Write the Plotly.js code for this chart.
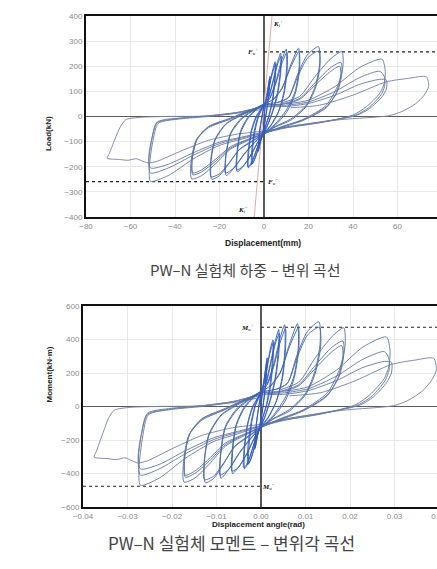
<!DOCTYPE html>
<html>
<head>
<meta charset="utf-8">
<script src="https://cdn.plot.ly/plotly-3.0.1.min.js"></script>
<style>
html,body{margin:0;padding:0;background:#fff;overflow:hidden;}
#chart{width:460px;height:569px;}
</style>
</head>
<body>
<div id="chart"></div>
<script>
// ---------- Load - displacement (mm, kN) ----------
const lv1Disp=[0,1.2,2.5,1.8,0.5,0,-1.2,-2.5,-1.8,-0.5,0,1.3,2.7,1.9,0.4,0,-1.3,-2.7,-1.9,-0.4,0];
const lv1Load=[0,75,150,70,-15,-40,-80,-135,-55,20,38,90,160,65,-25,-48,-90,-140,-50,25,45];
const lv2Disp=[1.5,3,4.2,5,4.9,3.8,2.2,0.6,0,-1.5,-3,-4.3,-5.2,-5.1,-4,-2.4,-0.8,0,1.6,3.1,4.4,5.2,5,3.9,2.2,0.6,0,-1.6,-3.2,-4.6,-5.6,-5.4,-4.2,-2.5,-0.8,0];
const lv2Load=[80,150,195,218,160,70,5,-40,-60,-95,-140,-172,-188,-130,-55,0,32,45,82,148,190,210,150,62,0,-42,-62,-98,-145,-178,-192,-125,-50,5,35,48];
const lv3Disp=[2,4,6,7.5,7.4,6,4,1.5,0,-2,-4,-5.8,-7,-6.9,-5.6,-3.5,-1.2,0,2.2,4.2,6.2,7.7,7.5,6.1,4,1.5,0,-2.2,-4.3,-6.2,-7.3,-7.1,-5.7,-3.6,-1.2,0];
const lv3Load=[75,140,215,252,185,95,25,-35,-62,-100,-150,-190,-205,-145,-60,-5,30,45,78,142,210,240,175,85,20,-38,-65,-105,-155,-192,-200,-138,-55,0,32,48];
const lv4Disp=[2.5,5,8,10,10.2,9,6.5,3,0,-3,-6,-9.5,-12,-12.1,-10.5,-7,-3,0,2.6,5.2,8.2,10.3,10.4,9,6.4,3,0,-3,-6.2,-9.6,-12.3,-12.2,-10.6,-7,-3,0];
const lv4Load=[70,130,225,268,200,100,20,-35,-65,-105,-155,-200,-220,-155,-65,-5,30,48,72,128,215,255,185,90,15,-38,-68,-108,-158,-200,-212,-148,-60,0,32,50];
const lv5Disp=[4,8,12,15.5,15.8,14,10,5,0,-4,-9,-13.5,-17,-17.2,-15,-10,-4,0,4,8,12.2,15.7,16,14,10,5,0,-4,-9,-13.6,-17.3,-17.2,-15,-10,-4,0];
const lv5Load=[65,110,205,272,200,100,25,-30,-68,-100,-150,-205,-235,-165,-70,-10,28,48,68,112,200,258,190,90,15,-35,-70,-102,-152,-205,-225,-158,-65,-5,30,50];
const lv6Disp=[6,11,15,19.5,24.5,25,23,19,12,5,0,-5,-11,-16,-20,-23.5,-23.8,-22,-17,-10,-4,0,6,11,15.2,19.8,24.7,25.1,23,19,12,5,0,-5,-11,-16,-20,-23.8,-23.9,-22,-17,-10,-4,0];
const lv6Load=[55,75,165,245,278,210,120,45,-10,-40,-68,-95,-130,-190,-235,-250,-180,-95,-30,5,30,48,56,76,160,235,260,195,110,40,-15,-42,-70,-98,-132,-188,-228,-240,-170,-90,-28,8,32,50];
const lv7Disp=[8,16,23,30,35,35.5,33,28,18,8,0,-7,-15,-22,-28,-32.5,-32.8,-30.5,-25,-15,-6,0,
               8,16,23,30,34.5,35,33,28,18,8,0,-7,-15,-22,-28,-32,-32.3,-30,-25,-15,-6,0,
               8,16,23,30,34,34.5,32.5,28,18,8,0,-7,-15,-22,-28,-32,-32.2,-30,-25,-15,-6,0];
const lv7Load=[55,80,160,230,258,200,120,45,-10,-40,-68,-95,-130,-190,-235,-248,-180,-94,-45,-10,25,45,
               50,72,135,195,215,170,100,38,-12,-42,-68,-92,-125,-180,-220,-232,-170,-90,-42,-8,25,45,
               48,68,125,180,200,160,95,35,-14,-44,-68,-90,-120,-172,-212,-225,-165,-88,-40,-6,26,45];
const lv8Disp=[10,20,32,43,53,54.5,54,52,46,40,25,10,0,-10,-20,-32,-43,-51,-51.5,-50,-47.5,-38,-25,-12,0,
               10,20,32,43,52,54,54.2,52.5,47,41,25,10,0,-10,-20,-32,-43,-51,-51.8,-50.5,-48,-38,-25,-12,0,
               10,20,32,43,52,55,55,53,47.5,41.5,25,10,0,-10,-20,-32,-43,-51,-51.8,-50.5,-48,-38,-25,-12,0];
const lv8Load=[50,65,120,195,228,180,130,92,39,6,-25,-45,-65,-90,-115,-170,-235,-258,-200,-100,-27,-10,0,15,40,
               45,58,100,155,180,160,120,85,35,5,-24,-44,-64,-85,-108,-155,-205,-225,-180,-95,-25,-8,2,16,38,
               40,52,85,128,148,145,110,78,32,4,-22,-42,-62,-82,-102,-145,-190,-205,-165,-90,-22,-6,3,16,36];
const lv9Disp=[12,25,40,55,65,73,74,72,68,62,56,35,15,0,-12,-25,-38,-48,-52,-55,-57.5,-61,-65,-70.5,-69.5,-67,-64.5,-62,-55,-45,-25,-10,0];
const lv9Load=[35,45,85,138,152,158,120,85,50,20,3,-12,-35,-58,-70,-95,-140,-178,-185,-176,-168,-174,-171,-166,-147,-90,-40,-12,-3,0,2,15,30];

// ---------- Moment - displacement angle (rad, kN·m) ----------
const lv1Rot=[0,0.0006,0.0013,0.0010,0.0003,0,-0.0006,-0.0013,-0.0010,-0.0003,0,0.0007,0.0014,0.0010,0.0002,0,-0.0007,-0.0014,-0.0010,-0.0002,0];
const lv1Mom=[0,137,273,127,-27,-73,-146,-246,-100,36,69,164,291,118,-46,-87,-164,-255,-91,46,82];
const lv2Rot=[0.0008,0.0016,0.0022,0.0027,0.0026,0.0020,0.0012,0.0003,0,-0.0008,-0.0016,-0.0023,-0.0028,-0.0027,-0.0021,-0.0013,-0.0004,0,0.0009,0.0016,0.0023,0.0028,0.0027,0.0021,0.0012,0.0003,0,-0.0009,-0.0017,-0.0024,-0.0030,-0.0029,-0.0022,-0.0013,-0.0004,0];
const lv2Mom=[146,273,355,397,291,127,9,-73,-109,-173,-255,-313,-342,-237,-100,0,58,82,149,269,346,382,273,113,0,-76,-113,-178,-264,-324,-349,-228,-91,9,64,87];
const lv3Rot=[0.0011,0.0021,0.0032,0.0040,0.0039,0.0032,0.0021,0.0008,0,-0.0011,-0.0021,-0.0031,-0.0037,-0.0037,-0.0030,-0.0019,-0.0006,0,0.0012,0.0022,0.0033,0.0041,0.0040,0.0032,0.0021,0.0008,0,-0.0012,-0.0023,-0.0033,-0.0039,-0.0038,-0.0030,-0.0019,-0.0006,0];
const lv3Mom=[137,255,391,459,337,173,46,-64,-113,-182,-273,-346,-373,-264,-109,-9,55,82,142,258,382,437,319,155,36,-69,-118,-191,-282,-349,-364,-251,-100,0,58,87];
const lv4Rot=[0.0013,0.0027,0.0043,0.0053,0.0054,0.0048,0.0035,0.0016,0,-0.0016,-0.0032,-0.0051,-0.0064,-0.0064,-0.0056,-0.0037,-0.0016,0,0.0014,0.0028,0.0044,0.0055,0.0055,0.0048,0.0034,0.0016,0,-0.0016,-0.0033,-0.0051,-0.0065,-0.0065,-0.0056,-0.0037,-0.0016,0];
const lv4Mom=[127,237,410,488,364,182,36,-64,-118,-191,-282,-364,-400,-282,-118,-9,55,87,131,233,391,464,337,164,27,-69,-124,-197,-288,-364,-386,-269,-109,0,58,91];
const lv5Rot=[0.0021,0.0043,0.0064,0.0082,0.0084,0.0074,0.0053,0.0027,0,-0.0021,-0.0048,-0.0072,-0.0090,-0.0091,-0.0080,-0.0053,-0.0021,0,0.0021,0.0043,0.0065,0.0084,0.0085,0.0074,0.0053,0.0027,0,-0.0021,-0.0048,-0.0072,-0.0092,-0.0091,-0.0080,-0.0053,-0.0021,0];
const lv5Mom=[118,200,373,495,364,182,46,-55,-124,-182,-273,-373,-428,-300,-127,-18,51,87,124,204,364,470,346,164,27,-64,-127,-186,-277,-373,-410,-288,-118,-9,55,91];
const lv6Rot=[0.0032,0.0059,0.0080,0.0104,0.0130,0.0133,0.0122,0.0101,0.0064,0.0027,0,-0.0027,-0.0059,-0.0085,-0.0106,-0.0125,-0.0127,-0.0117,-0.0090,-0.0053,-0.0021,0,0.0032,0.0059,0.0081,0.0105,0.0131,0.0134,0.0122,0.0101,0.0064,0.0027,0,-0.0027,-0.0059,-0.0085,-0.0106,-0.0127,-0.0127,-0.0117,-0.0090,-0.0053,-0.0021,0];
const lv6Mom=[100,137,300,446,506,382,218,82,-18,-73,-124,-173,-237,-346,-428,-455,-328,-173,-55,9,55,87,102,138,291,428,473,355,200,73,-27,-76,-127,-178,-240,-342,-415,-437,-309,-164,-51,15,58,91];
const lv7Rot=[0.0043,0.0085,0.0122,0.0160,0.0186,0.0189,0.0176,0.0149,0.0096,0.0043,0,-0.0037,-0.0080,-0.0117,-0.0149,-0.0173,-0.0174,-0.0162,-0.0133,-0.0080,-0.0032,0,
              0.0043,0.0085,0.0122,0.0160,0.0184,0.0186,0.0176,0.0149,0.0096,0.0043,0,-0.0037,-0.0080,-0.0117,-0.0149,-0.0170,-0.0172,-0.0160,-0.0133,-0.0080,-0.0032,0,
              0.0043,0.0085,0.0122,0.0160,0.0181,0.0184,0.0173,0.0149,0.0096,0.0043,0,-0.0037,-0.0080,-0.0117,-0.0149,-0.0170,-0.0171,-0.0160,-0.0133,-0.0080,-0.0032,0];
const lv7Mom=[100,146,291,419,470,364,218,82,-18,-73,-124,-173,-237,-346,-428,-451,-328,-171,-82,-18,46,82,
              91,131,246,355,391,309,182,69,-22,-76,-124,-167,-228,-328,-400,-422,-309,-164,-76,-15,46,82,
              87,124,228,328,364,291,173,64,-25,-80,-124,-164,-218,-313,-386,-410,-300,-160,-73,-11,47,82];
const lv8Rot=[0.0053,0.0106,0.0170,0.0229,0.0282,0.0290,0.0287,0.0277,0.0245,0.0213,0.0133,0.0053,0,-0.0053,-0.0106,-0.0170,-0.0229,-0.0271,-0.0274,-0.0266,-0.0253,-0.0202,-0.0133,-0.0064,0,
              0.0053,0.0106,0.0170,0.0229,0.0277,0.0287,0.0288,0.0279,0.0250,0.0218,0.0133,0.0053,0,-0.0053,-0.0106,-0.0170,-0.0229,-0.0271,-0.0276,-0.0269,-0.0255,-0.0202,-0.0133,-0.0064,0,
              0.0053,0.0106,0.0170,0.0229,0.0277,0.0293,0.0293,0.0282,0.0253,0.0221,0.0133,0.0053,0,-0.0053,-0.0106,-0.0170,-0.0229,-0.0271,-0.0276,-0.0269,-0.0255,-0.0202,-0.0133,-0.0064,0];
const lv8Mom=[91,118,218,355,415,328,237,167,71,11,-46,-82,-118,-164,-209,-309,-428,-470,-364,-182,-49,-18,0,27,73,
              82,106,182,282,328,291,218,155,64,9,-44,-80,-116,-155,-197,-282,-373,-410,-328,-173,-46,-15,4,29,69,
              73,95,155,233,269,264,200,142,58,7,-40,-76,-113,-149,-186,-264,-346,-373,-300,-164,-40,-11,5,29,66];
const lv9Rot=[0.0064,0.0133,0.0213,0.0293,0.0346,0.0388,0.0394,0.0383,0.0362,0.0330,0.0298,0.0186,0.0080,0,-0.0064,-0.0133,-0.0202,-0.0255,-0.0277,-0.0293,-0.0306,-0.0324,-0.0346,-0.0375,-0.0370,-0.0356,-0.0343,-0.0330,-0.0293,-0.0239,-0.0133,-0.0053,0];
const lv9Mom=[64,82,155,251,277,288,218,155,91,36,5,-22,-64,-106,-127,-173,-255,-324,-337,-320,-306,-317,-311,-302,-268,-164,-73,-22,-5,0,4,27,55];

// reference values
const fuPos=257, fuNeg=-259;          // kN
const muPos=473, muNeg=-476;          // kN·m
const kLineDisp=[-4.4,3.6], kLineLoad=[-400,400];

// tick labels
const dispTicks=[-80,-60,-40,-20,0,20,40,60,80];
const loadTicks=[-400,-300,-200,-100,0,100,200,300,400];
const rotTicks=[-0.04,-0.03,-0.02,-0.01,0,0.01,0.02,0.03,0.04];
const momTicks=[-600,-400,-200,0,200,400,600];

const colors=['#2c59cc','#2e5bc8','#3460c2','#3962bd','#4268b6','#4c6db0','#5c75aa','#6b7da7','#7a86a6'];
const topSets=[[lv1Disp,lv1Load],[lv2Disp,lv2Load],[lv3Disp,lv3Load],[lv4Disp,lv4Load],[lv5Disp,lv5Load],[lv6Disp,lv6Load],[lv7Disp,lv7Load],[lv8Disp,lv8Load],[lv9Disp,lv9Load]];
const botSets=[[lv1Rot,lv1Mom],[lv2Rot,lv2Mom],[lv3Rot,lv3Mom],[lv4Rot,lv4Mom],[lv5Rot,lv5Mom],[lv6Rot,lv6Mom],[lv7Rot,lv7Mom],[lv8Rot,lv8Mom],[lv9Rot,lv9Mom]];

const traces=[];
traces.push({x:kLineDisp,y:kLineLoad,xaxis:'x',yaxis:'y',mode:'lines',line:{color:'#e2aaa6',width:1}});
traces.push({x:[0,80],y:[fuPos,fuPos],xaxis:'x',yaxis:'y',mode:'lines',line:{color:'#222',width:1.2,dash:'dot'}});
traces.push({x:[-80,0],y:[fuNeg,fuNeg],xaxis:'x',yaxis:'y',mode:'lines',line:{color:'#222',width:1.2,dash:'dot'}});
traces.push({x:[0,0.04],y:[muPos,muPos],xaxis:'x2',yaxis:'y2',mode:'lines',line:{color:'#222',width:1.2,dash:'dot'}});
traces.push({x:[-0.04,0],y:[muNeg,muNeg],xaxis:'x2',yaxis:'y2',mode:'lines',line:{color:'#222',width:1.2,dash:'dot'}});
for(let i=topSets.length-1;i>=0;i--){
  traces.push({x:topSets[i][0],y:topSets[i][1],xaxis:'x',yaxis:'y',mode:'lines',
    line:{color:colors[i],width:0.95,shape:'spline',smoothing:0.7}});
  traces.push({x:botSets[i][0],y:botSets[i][1],xaxis:'x2',yaxis:'y2',mode:'lines',
    line:{color:colors[i],width:0.95,shape:'spline',smoothing:0.7}});
}

const W=460,H=569;
const px=v=>v/W, py=v=>1-v/H;
const tickFont={family:'Liberation Sans, Arial, sans-serif',size:8,color:'#8a8a8a'};
const axBase={showline:true,mirror:true,linecolor:'#111',linewidth:2,gridcolor:'#e8e8e8',gridwidth:1,
  zeroline:true,zerolinecolor:'#5a5a5a',zerolinewidth:1.5,ticks:'',tickfont:tickFont,fixedrange:true};
const lblFont={family:'Liberation Serif, serif',size:7,color:'#111'};
const titleFont={family:'Liberation Sans, Arial, sans-serif',size:8,color:'#222'};
const capFont={family:'Noto Sans CJK KR, sans-serif',size:15,color:'#444'};

const layout={
  width:W,height:H,margin:{l:0,r:0,t:0,b:0},showlegend:false,hovermode:false,
  paper_bgcolor:'#fff',plot_bgcolor:'#fff',
  xaxis:Object.assign({},axBase,{domain:[px(86),px(442)],range:[-80,80],tickvals:dispTicks,anchor:'y'}),
  yaxis:Object.assign({},axBase,{domain:[py(217),py(16)],range:[-400,400],tickvals:loadTicks,anchor:'x'}),
  xaxis2:Object.assign({},axBase,{domain:[px(83),px(439)],range:[-0.04,0.04],tickvals:rotTicks,tickformat:'.2f',anchor:'y2'}),
  yaxis2:Object.assign({},axBase,{domain:[py(507),py(306)],range:[-600,600],tickvals:momTicks,anchor:'x2'}),
  annotations:[
    {xref:'paper',yref:'paper',x:px(42),y:py(114),text:'<b>Load(kN)</b>',textangle:-90,showarrow:false,font:titleFont},
    {xref:'paper',yref:'paper',x:px(263),y:py(243),text:'<b>Displacement(mm)</b>',showarrow:false,font:Object.assign({},titleFont,{size:8.5})},
    {xref:'paper',yref:'paper',x:px(245),y:py(269),text:'PW–N 실험체 하중 – 변위 곡선',showarrow:false,font:capFont},
    {xref:'paper',yref:'paper',x:px(42),y:py(405),text:'<b>Moment(kN·m)</b>',textangle:-90,showarrow:false,font:titleFont},
    {xref:'paper',yref:'paper',x:px(258),y:py(531),text:'<b>Displacement angle(rad)</b>',showarrow:false,font:titleFont},
    {xref:'paper',yref:'paper',x:px(231),y:py(557),text:'PW–N 실험체 모멘트 – 변위각 곡선',showarrow:false,font:Object.assign({},capFont,{size:17})},
    {xref:'x',yref:'y',x:6.5,y:372,text:'<b><i>K</i></b><sub>i</sub><sup>+</sup>',showarrow:false,font:lblFont},
    {xref:'x',yref:'y',x:-9.5,y:-372,text:'<b><i>K</i></b><sub>i</sub><sup>−</sup>',showarrow:false,font:lblFont},
    {xref:'x',yref:'y',x:-5,y:fuPos,text:'<b><i>F</i></b><sub>u</sub><sup>+</sup>',showarrow:false,font:lblFont},
    {xref:'x',yref:'y',x:4,y:fuNeg,text:'<b><i>F</i></b><sub>u</sub><sup>−</sup>',showarrow:false,font:lblFont},
    {xref:'x2',yref:'y2',x:-0.003,y:muPos,text:'<b><i>M</i></b><sub>u</sub><sup>+</sup>',showarrow:false,font:lblFont},
    {xref:'x2',yref:'y2',x:0.0016,y:muNeg,text:'<b><i>M</i></b><sub>u</sub><sup>−</sup>',showarrow:false,font:lblFont}
  ]
};
Plotly.newPlot('chart',traces,layout,{staticPlot:true,displayModeBar:false});
</script>
</body>
</html>
